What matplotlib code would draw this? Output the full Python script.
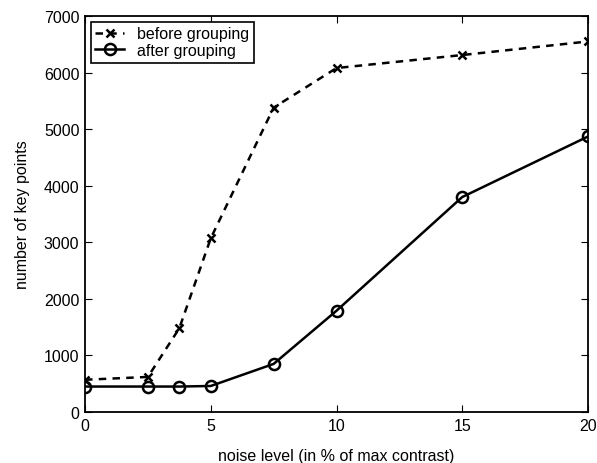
import matplotlib
matplotlib.use('Agg')
import matplotlib.pyplot as plt

noise = [0, 2.5, 3.75, 5, 7.5, 10, 15, 20]
before = [570, 620, 1480, 3070, 5380, 6080, 6310, 6550]
after = [450, 450, 450, 460, 850, 1790, 3800, 4870]

plt.rcParams['font.family'] = ['Liberation Sans', 'DejaVu Sans']

fig = plt.figure(figsize=(5.97, 4.64), dpi=100)
ax = fig.add_axes([85 / 597, 51 / 464, 503 / 597, 396 / 464])

ax.plot(noise, before, '--x', color='k', lw=1.8, ms=5.5, mew=1.8,
        dashes=(3, 2.5), label='before grouping')
ax.plot(noise, after, '-o', color='k', lw=1.8, ms=8, mew=1.8,
        mfc='none', label='after grouping')

ax.set_xlim(0, 20)
ax.set_ylim(0, 7000)
ax.set_xticks([0, 5, 10, 15, 20])
ax.set_yticks(range(0, 7001, 1000))
ax.tick_params(direction='in', top=True, right=True, labelsize=11.5,
               length=5, pad=4)
for s in ax.spines.values():
    s.set_linewidth(1.3)

ax.set_xlabel('noise level (in % of max contrast)', fontsize=11.5, labelpad=11)
ax.set_ylabel('number of key points', fontsize=11.5, labelpad=10)

leg = ax.legend(loc='upper left', fontsize=11.5, fancybox=False, framealpha=1,
                edgecolor='k', borderaxespad=0.35, handlelength=1.8,
                handletextpad=0.8, borderpad=0.3, labelspacing=0.1)
leg.get_frame().set_linewidth(1.2)

fig.savefig('out.png', dpi=100)
